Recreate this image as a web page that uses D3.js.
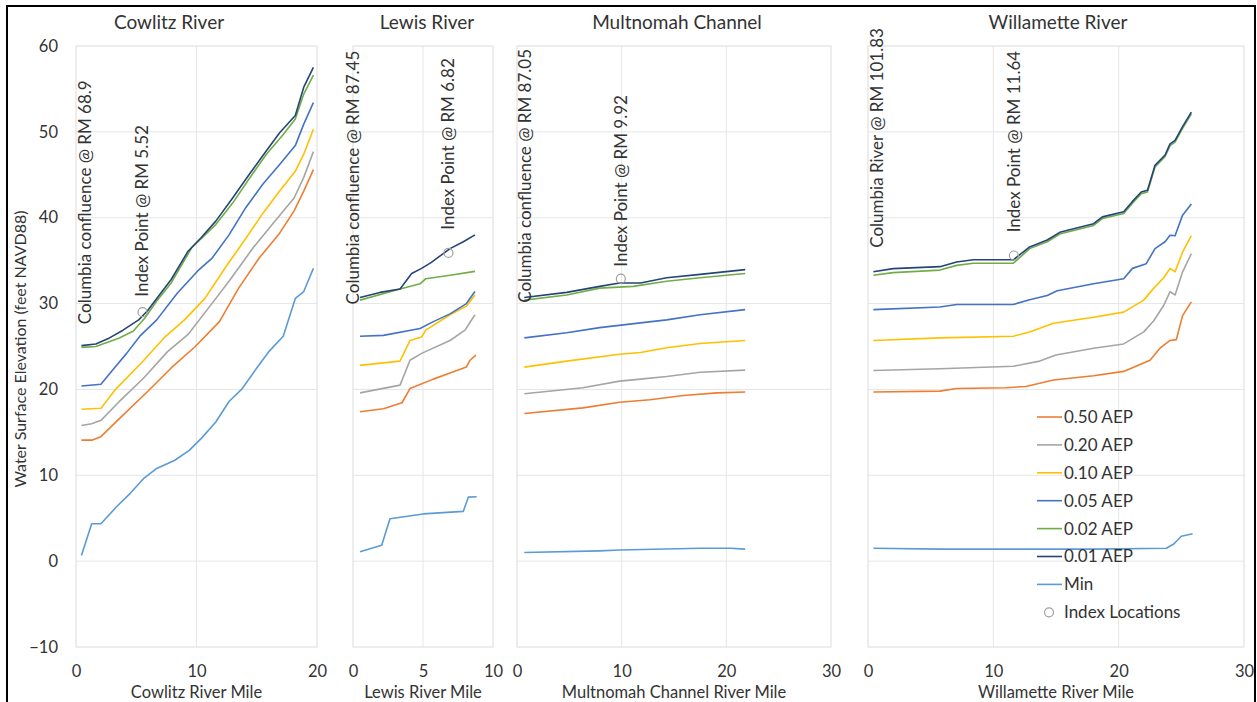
<!DOCTYPE html>
<html><head><meta charset="utf-8">
<script src="https://cdn.jsdelivr.net/npm/d3@7"></script>
<style>body{margin:0;background:#fff}svg{display:block}text{font-family:Lato,"Open Sans",sans-serif;fill:#333}</style>
</head><body><svg id="c" width="1257" height="702"></svg>
<script>
// ---------- DATA ----------
const seriesNames = ["0.50 AEP","0.20 AEP","0.10 AEP","0.05 AEP","0.02 AEP","0.01 AEP","Min"];
const seriesColors = ["#ED7D31","#A5A5A5","#FFC000","#4472C4","#70AD47","#264478","#5B9BD5"];
const yTicks = [-10,0,10,20,30,40,50,60];

// Cowlitz River [mile, elevation]
const cowlitz050 = [[0.45,14.1],[1.36,14.1],[2.07,14.5],[3.6,16.6],[5.9,19.7],[7.9,22.5],[9.9,25.0],[11.9,27.9],[13.5,31.8],[15.2,35.3],[16.9,38.2],[18.1,40.8],[18.9,43.1],[19.7,45.6]];
const cowlitz020 = [[0.45,15.8],[1.3,16.0],[2.07,16.4],[3.6,18.6],[5.6,21.3],[7.6,24.4],[9.3,26.4],[11.0,29.5],[12.7,32.6],[14.7,36.5],[16.4,39.4],[18.1,42.3],[18.9,44.7],[19.7,47.7]];
const cowlitz010 = [[0.45,17.7],[2.07,17.8],[3.34,20.1],[5.5,23.2],[7.3,26.0],[9.0,28.1],[10.7,30.6],[12.4,34.2],[14.1,37.6],[15.5,40.5],[16.9,43.1],[18.2,45.4],[18.9,47.4],[19.7,50.3]];
const cowlitz005 = [[0.45,20.4],[2.07,20.6],[3.06,22.3],[4.2,24.2],[5.3,26.2],[6.7,28.1],[8.4,31.2],[10.1,33.8],[11.3,35.3],[12.7,38.0],[14.1,41.2],[15.5,43.9],[16.9,46.2],[18.2,48.4],[18.9,50.9],[19.7,53.4]];
const cowlitz002 = [[0.45,24.9],[1.64,25.0],[3.6,26.0],[4.76,26.8],[5.7,28.3],[6.7,30.3],[7.9,32.4],[9.6,36.5],[11.6,39.2],[13.0,41.7],[14.4,44.6],[15.8,47.4],[17.2,49.7],[18.2,51.5],[18.9,54.4],[19.7,56.6]];
const cowlitz001 = [[0.45,25.1],[1.64,25.3],[2.78,26.0],[3.9,26.9],[5.2,28.1],[5.9,29.1],[6.7,30.6],[7.9,32.8],[9.3,36.1],[10.4,37.7],[11.6,39.6],[13.0,42.3],[14.4,45.1],[15.8,47.8],[16.9,49.9],[18.2,51.9],[18.9,55.2],[19.7,57.5]];
const cowlitzMin = [[0.45,0.65],[1.3,4.35],[2.07,4.35],[3.34,6.3],[4.5,7.9],[5.6,9.6],[6.7,10.8],[8.2,11.75],[9.4,12.9],[10.4,14.3],[11.6,16.2],[12.7,18.6],[13.8,20.1],[15.0,22.5],[16.0,24.4],[17.2,26.2],[18.2,30.6],[18.9,31.4],[19.7,34.1]];

// Lewis River
const lewis050 = [[0.5,17.4],[2.17,17.75],[3.5,18.45],[4.07,20.1],[5.74,21.2],[6.93,21.9],[8.1,22.6],[8.36,23.4],[8.78,24.0]];
const lewis020 = [[0.5,19.6],[3.36,20.5],[4.07,23.4],[4.9,24.2],[6.93,25.7],[8.0,26.9],[8.71,28.7]];
const lewis010 = [[0.5,22.8],[3.36,23.3],[4.07,25.7],[4.9,26.1],[5.2,26.9],[6.93,28.7],[8.1,29.7],[8.71,31.0]];
const lewis005 = [[0.5,26.2],[2.17,26.3],[4.79,27.1],[5.74,27.9],[6.93,28.8],[8.1,30.0],[8.71,31.4]];
const lewis002 = [[0.5,30.4],[3.36,31.7],[4.79,32.3],[5.2,32.9],[6.93,33.3],[8.71,33.75]];
const lewis001 = [[0.5,30.7],[1.93,31.3],[3.36,31.7],[4.19,33.5],[4.9,34.1],[5.6,34.8],[6.1,35.4],[6.93,36.4],[7.88,37.2],[8.71,38.0]];
const lewisMin = [[0.5,1.1],[2.05,1.85],[2.64,4.93],[5.02,5.5],[7.88,5.8],[8.24,7.46],[8.83,7.5]];

// Multnomah Channel
const multnomah050 = [[0.7,17.2],[6.3,17.85],[9.8,18.5],[12.7,18.8],[15.9,19.3],[19.1,19.6],[21.8,19.7]];
const multnomah020 = [[0.7,19.5],[6.3,20.2],[9.8,20.97],[11.8,21.2],[14.3,21.5],[17.5,22.0],[21.8,22.25]];
const multnomah010 = [[0.7,22.6],[4.75,23.3],[9.8,24.1],[11.8,24.3],[14.3,24.85],[17.5,25.35],[21.8,25.7]];
const multnomah005 = [[0.7,26.0],[4.75,26.6],[7.9,27.2],[11.8,27.75],[14.3,28.1],[17.5,28.7],[21.8,29.3]];
const multnomah002 = [[0.7,30.4],[4.75,31.0],[7.9,31.8],[11.1,32.0],[14.3,32.6],[17.5,33.0],[21.8,33.5]];
const multnomah001 = [[0.7,30.7],[4.75,31.3],[7.9,32.0],[9.8,32.4],[11.8,32.4],[14.3,33.0],[17.5,33.4],[21.8,33.95]];
const multnomahMin = [[0.7,1.0],[7.9,1.2],[9.8,1.3],[17.5,1.5],[20.4,1.5],[21.8,1.4]];

// Willamette River
const willamette050 = [[0.43,19.7],[5.74,19.8],[7.07,20.1],[11.0,20.2],[12.6,20.35],[14.8,21.1],[18.0,21.6],[20.4,22.1],[22.5,23.4],[23.3,24.8],[24.1,25.7],[24.6,25.8],[25.1,28.6],[25.8,30.2]];
const willamette020 = [[0.43,22.2],[5.74,22.4],[11.6,22.7],[13.7,23.3],[15.0,24.0],[18.0,24.8],[20.4,25.3],[22.0,26.7],[22.8,28.0],[23.6,29.8],[24.1,31.4],[24.5,31.0],[25.1,33.7],[25.8,35.8]];
const willamette010 = [[0.43,25.7],[5.74,26.0],[11.6,26.2],[12.9,26.7],[14.8,27.7],[18.0,28.4],[20.4,29.0],[22.0,30.4],[22.8,31.8],[23.6,33.0],[24.1,34.1],[24.5,33.7],[25.1,36.0],[25.8,37.9]];
const willamette005 = [[0.43,29.3],[5.74,29.6],[7.07,29.9],[11.6,29.9],[12.9,30.45],[14.3,30.95],[15.1,31.5],[18.0,32.3],[20.4,32.9],[21.1,34.1],[22.2,34.65],[22.9,36.4],[23.7,37.2],[24.1,37.95],[24.5,37.9],[25.1,40.3],[25.8,41.6]];
const willamette002 = [[0.43,33.3],[2.0,33.6],[5.74,33.9],[7.07,34.45],[8.4,34.7],[11.6,34.7],[12.9,36.4],[14.3,37.2],[15.3,38.1],[18.0,39.1],[18.7,39.9],[20.4,40.5],[21.1,41.7],[21.8,42.8],[22.3,43.0],[22.9,45.9],[23.7,47.1],[24.1,48.4],[24.5,48.8],[25.1,50.4],[25.8,52.1]];
const willamette001 = [[0.43,33.7],[2.0,34.07],[5.74,34.3],[7.07,34.85],[8.4,35.1],[11.6,35.1],[12.9,36.6],[14.3,37.4],[15.3,38.3],[18.0,39.3],[18.7,40.1],[20.4,40.7],[21.1,41.9],[21.8,43.0],[22.3,43.2],[22.9,46.1],[23.7,47.3],[24.1,48.6],[24.5,49.0],[25.1,50.6],[25.8,52.3]];
const willametteMin = [[0.43,1.5],[5.74,1.4],[18.0,1.4],[23.8,1.5],[24.4,2.0],[25.0,2.9],[25.9,3.2]];

// Index locations [mile, elevation]
const indexPoints = [[[5.52,29.0]],[[6.82,35.9]],[[9.92,32.9]],[[11.64,35.6]]];
// Annotation text: [text, mile, elevation where text begins]
const cowlitzNotes = [["Columbia confluence @ RM 68.9",0.75,27.6],["Index Point @ RM 5.52",5.52,30.8]];
const lewisNotes = [["Columbia confluence @ RM 87.45",0.0,29.9],["Index Point @ RM 6.82",6.82,38.6]];
const multnomahNotes = [["Columbia confluence @ RM 87.05",0.76,30.1],["Index Point @ RM 9.92",9.92,34.3]];
const willametteNotes = [["Columbia River @ RM 101.83",0.72,36.5],["Index Point @ RM 11.64",11.64,38.3]];

const panelTitles = ["Cowlitz River","Lewis River","Multnomah Channel","Willamette River"];
const xTitles = ["Cowlitz River Mile","Lewis River Mile","Multnomah Channel River Mile","Willamette River Mile"];
const xTicksList = [[0,10,20],[0,5,10],[0,10,20,30],[0,10,20,30]];
const xMaxes = [20,10,30,30];
const panelSeries = [
  [cowlitz050,cowlitz020,cowlitz010,cowlitz005,cowlitz002,cowlitz001,cowlitzMin],
  [lewis050,lewis020,lewis010,lewis005,lewis002,lewis001,lewisMin],
  [multnomah050,multnomah020,multnomah010,multnomah005,multnomah002,multnomah001,multnomahMin],
  [willamette050,willamette020,willamette010,willamette005,willamette002,willamette001,willametteMin]
];
const panelNotes = [cowlitzNotes,lewisNotes,multnomahNotes,willametteNotes];

// ---------- LAYOUT ----------
const layout = [
  {x0:76,x1:317,titleX:169},
  {x0:353,x1:493,titleX:427},
  {x0:517,x1:831,titleX:677},
  {x0:868,x1:1244,titleX:1058}
];
const yTop = 46, yBot = 647;
const svg = d3.select("#c");
const y = d3.scaleLinear().domain([-10,60]).range([yBot,yTop]);

svg.append("rect").attr("x",7).attr("y",6).attr("width",1248).attr("height",702)
  .attr("fill","none").attr("stroke","#000").attr("stroke-width",2);

const line = (x) => d3.line().x(d=>x(d[0])).y(d=>y(d[1]));

layout.forEach((L,i)=>{
  const x = d3.scaleLinear().domain([0,xMaxes[i]]).range([L.x0,L.x1]);
  const g = svg.append("g");
  g.selectAll(".hg").data(yTicks.filter(t=>t>-10&&t<60)).join("line")
    .attr("x1",L.x0).attr("x2",L.x1).attr("y1",d=>y(d)).attr("y2",d=>y(d))
    .attr("stroke","#e6e6e6").attr("stroke-width",1);
  g.selectAll(".vg").data(xTicksList[i].filter(t=>t>0&&t<xMaxes[i])).join("line")
    .attr("x1",d=>x(d)).attr("x2",d=>x(d)).attr("y1",yTop).attr("y2",yBot)
    .attr("stroke","#e6e6e6").attr("stroke-width",1);
  g.append("rect").attr("x",L.x0).attr("y",yTop).attr("width",L.x1-L.x0).attr("height",yBot-yTop)
    .attr("fill","none").attr("stroke","#dcdcdc").attr("stroke-width",1);
  const xa = g.append("g").attr("transform",`translate(0,${yBot})`)
    .call(d3.axisBottom(x).tickValues(xTicksList[i]).tickSize(0).tickPadding(18).tickFormat(d3.format("d")));
  xa.select(".domain").remove();
  xa.selectAll("text").attr("font-size",16.5).attr("fill","#333").attr("font-family","Lato");
  if(i===0){
    const ya = g.append("g").attr("transform",`translate(${L.x0},0)`)
      .call(d3.axisLeft(y).tickValues(yTicks).tickSize(0).tickPadding(18).tickFormat(d3.format("d")));
    ya.select(".domain").remove();
    ya.selectAll("text").attr("font-size",16.5).attr("fill","#333").attr("font-family","Lato");
  }
  g.append("text").attr("x",L.titleX).attr("y",29).attr("text-anchor","middle")
    .attr("font-size",19).text(panelTitles[i]);
  g.append("text").attr("x",(L.x0+L.x1)/2).attr("y",698).attr("text-anchor","middle")
    .attr("font-size",16.5).text(xTitles[i]);
  panelSeries[i].forEach((s,k)=>{
    g.append("path").datum(s).attr("d",line(x)).attr("fill","none")
      .attr("stroke",seriesColors[k]).attr("stroke-width",1.6).attr("stroke-linejoin","round");
  });
  g.selectAll(".ip").data(indexPoints[i]).join("circle")
    .attr("cx",d=>x(d[0])).attr("cy",d=>y(d[1])).attr("r",4.5)
    .attr("fill","none").attr("stroke","#a0a0a0").attr("stroke-width",1.2);
  panelNotes[i].forEach(n=>{
    g.append("text").attr("transform",`translate(${x(n[1])},${y(n[2])}) rotate(-90)`)
      .attr("dy","0.35em").attr("font-size",17).attr("fill","#222").text(n[0]);
  });
});

svg.append("text").attr("transform",`translate(20,349) rotate(-90)`).attr("text-anchor","middle")
  .attr("dy","0.35em").attr("font-size",16).text("Water Surface Elevation (feet NAVD88)");

const lg = svg.append("g");
const legendItems = seriesNames.concat(["Index Locations"]);
legendItems.forEach((name,k)=>{
  const ly = 417 + k*27.9;
  if(k<seriesNames.length){
    lg.append("line").attr("x1",1037).attr("x2",1062).attr("y1",ly).attr("y2",ly)
      .attr("stroke",seriesColors[k]).attr("stroke-width",1.6);
  } else {
    lg.append("circle").attr("cx",1049).attr("cy",ly).attr("r",4.5).attr("fill","none")
      .attr("stroke","#a0a0a0").attr("stroke-width",1.2);
  }
  lg.append("text").attr("x",1064).attr("y",ly).attr("dy","0.35em").attr("font-size",17)
    .attr("fill","#222").text(name);
});
</script></body></html>
